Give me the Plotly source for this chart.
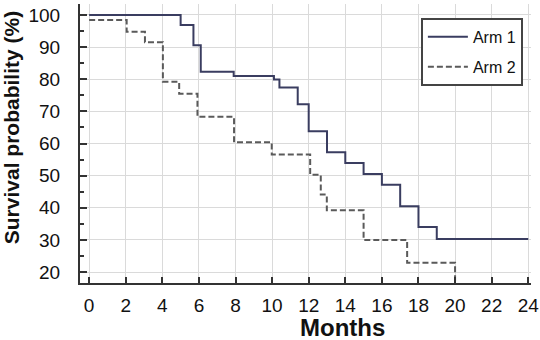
import plotly.graph_objects as go

# Arm 1 (solid) step data: month at which each level starts, survival %
arm1_months = [0, 5.0, 5.7, 6.1, 7.9, 10.1, 10.4, 11.4, 12.0, 13.0, 14.0, 15.0, 16.0, 17.0, 18.0, 19.0, 24.0]
arm1_surv = [100, 96.9, 90.6, 82.3, 81.0, 79.9, 77.4, 72.2, 63.8, 57.3, 53.9, 50.5, 47.2, 40.5, 34.0, 30.3, 30.3]

# Arm 2 (dashed)
arm2_months = [0, 2.05, 3.05, 4.03, 4.92, 5.92, 7.92, 9.98, 12.08, 12.66, 12.99, 15.0, 17.38, 20.0]
arm2_surv = [98.4, 94.8, 91.5, 79.2, 75.5, 68.3, 60.4, 56.6, 50.3, 44.1, 39.2, 30.0, 22.9, 0]

x_ticks = list(range(0, 25, 2))
y_ticks = list(range(20, 101, 10))

fig = go.Figure()
fig.add_trace(go.Scatter(
    x=arm1_months, y=arm1_surv, mode="lines", name="Arm 1", legendgroup="a1",
    line=dict(shape="hv", color="#3a3d60", width=2),
))
fig.add_trace(go.Scatter(
    x=arm2_months, y=arm2_surv, mode="lines", name="Arm 2", legendgroup="a2",
    line=dict(shape="hv", color="#5a5a5a", width=2, dash="6px,3px"),
))

font_family = "Liberation Sans, Arial, sans-serif"

fig.update_layout(
    width=540, height=340,
    margin=dict(l=80, r=9, t=4, b=57),
    paper_bgcolor="white", plot_bgcolor="white",
    font=dict(family=font_family, color="#111111"),
    showlegend=True,
    legend=dict(
        x=0.982, y=0.95, xanchor="right", yanchor="top",
        bordercolor="#444444", borderwidth=2, bgcolor="white",
        font=dict(size=16, color="#111111"),
        tracegroupgap=6, itemwidth=40,
    ),
    xaxis=dict(
        range=[-0.5, 24.15], tickvals=x_ticks, ticktext=[str(v) for v in x_ticks],
        ticks="inside", ticklen=6, tickwidth=2, tickcolor="#333333",
        showline=True, linecolor="#333333", linewidth=2,
        showgrid=True, gridcolor="#dadada", gridwidth=1, zeroline=False,
        tickfont=dict(size=19, color="#111111"),
        ticklabelstandoff=4,
        automargin=False,
    ),
    yaxis=dict(
        range=[16.6, 103.4], tickvals=y_ticks, ticktext=[str(v) for v in y_ticks],
        ticks="inside", ticklen=7, tickwidth=2, tickcolor="#333333",
        minor=dict(dtick=5, tick0=0, ticks="inside", ticklen=4, tickwidth=1.5, tickcolor="#333333", showgrid=False),
        showline=True, linecolor="#333333", linewidth=2,
        showgrid=True, gridcolor="#dadada", gridwidth=1, zeroline=False,
        tickfont=dict(size=19, color="#111111"),
        ticklabelstandoff=14,
        automargin=False,
    ),
    annotations=[
        dict(text="<b>Months</b>", xref="paper", yref="paper", x=0.583, y=-0.158,
             xanchor="center", yanchor="middle", showarrow=False,
             font=dict(size=24, color="#111111")),
        dict(text="<b>Survival probability (%)</b>", xref="paper", yref="paper",
             x=-0.150, y=0.556, xanchor="center", yanchor="middle", textangle=-90,
             showarrow=False, font=dict(size=21, color="#111111")),
    ],
)

fig.write_html("out.html", config={"displayModeBar": False},
               post_script="document.body.style.margin='0';")
